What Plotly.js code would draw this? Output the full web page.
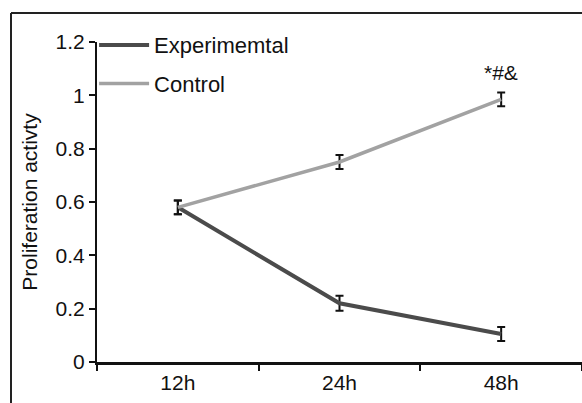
<!DOCTYPE html>
<html>
<head>
<meta charset="utf-8">
<script src="https://cdn.plot.ly/plotly-3.0.1.min.js"></script>
<style>
  html, body { margin: 0; padding: 0; background: #fff; }
  #chart { width: 582px; height: 403px; }
</style>
</head>
<body>
<div id="chart"></div>
<script>
const categories = ['12h', '24h', '48h'];
const experimentalValues = [0.58, 0.22, 0.105];
const experimentalErrors = [0.026, 0.028, 0.026];
const controlValues = [0.58, 0.75, 0.985];
const controlErrors = [0.026, 0.026, 0.026];
const yTickValues = [0, 0.2, 0.4, 0.6, 0.8, 1, 1.2];
const yTickLabels = ['0', '0.2', '0.4', '0.6', '0.8', '1', '1.2'];
const significanceLabel = '*#&';
const significanceCategory = '48h';
const significanceY = 1.085;

const FONT = 'Arial, "Liberation Sans", Helvetica, sans-serif';

const traces = [
  {
    x: categories, y: experimentalValues, name: 'Experimemtal',
    type: 'scatter', mode: 'lines', legendgroup: 'a',
    line: { color: '#4b4b4b', width: 4 },
    error_y: { type: 'data', array: experimentalErrors, visible: true,
               color: '#111', thickness: 2, width: 4 }
  },
  {
    x: categories, y: controlValues, name: 'Control',
    type: 'scatter', mode: 'lines', legendgroup: 'b',
    line: { color: '#a2a2a2', width: 3.5 },
    error_y: { type: 'data', array: controlErrors, visible: true,
               color: '#111', thickness: 2, width: 4 }
  }
];

const layout = {
  width: 582, height: 403,
  margin: { l: 97, r: 0, t: 42, b: 41 },
  paper_bgcolor: '#fff', plot_bgcolor: '#fff',
  font: { family: FONT, size: 21, color: '#111' },
  showlegend: true,
  legend: {
    x: -0.006, y: 1.056, xanchor: 'left', yanchor: 'top',
    bgcolor: 'rgba(0,0,0,0)', borderwidth: 0,
    font: { family: FONT, size: 22, color: '#111' },
    traceorder: 'grouped', tracegroupgap: 7, itemwidth: 50
  },
  xaxis: {
    type: 'category', range: [-0.5, 2.5],
    showline: true, linecolor: '#111', linewidth: 2.5,
    ticks: 'outside', ticklen: 6, tickwidth: 2, tickcolor: '#111',
    tickson: 'boundaries', showgrid: false, zeroline: false,
    tickfont: { family: FONT, size: 21, color: '#111' }
  },
  yaxis: {
    range: [0, 1.2], tickvals: yTickValues, ticktext: yTickLabels,
    showline: true, linecolor: '#111', linewidth: 2,
    ticks: 'outside', ticklen: 6, tickwidth: 2, tickcolor: '#111',
    showgrid: false, zeroline: false,
    tickfont: { family: FONT, size: 21, color: '#111' },
    title: { text: 'Proliferation activty', font: { family: FONT, size: 21, color: '#111' }, standoff: 12 }
  },
  annotations: [
    { x: significanceCategory, y: significanceY, xref: 'x', yref: 'y',
      text: significanceLabel, showarrow: false,
      font: { family: FONT, size: 21, color: '#111' } }
  ],
  shapes: [
    { type: 'line', xref: 'paper', yref: 'paper',
      x0: (11 - 97) / 485, x1: (11 - 97) / 485, y0: -0.2, y1: (362 - 13) / 320,
      line: { color: '#222', width: 2 } },
    { type: 'line', xref: 'paper', yref: 'paper',
      x0: (11 - 97) / 485, x1: 1.05, y0: (362 - 13) / 320, y1: (362 - 13) / 320,
      line: { color: '#222', width: 2 } }
  ]
};

Plotly.newPlot('chart', traces, layout, { displayModeBar: false, staticPlot: true });
</script>
</body>
</html>
